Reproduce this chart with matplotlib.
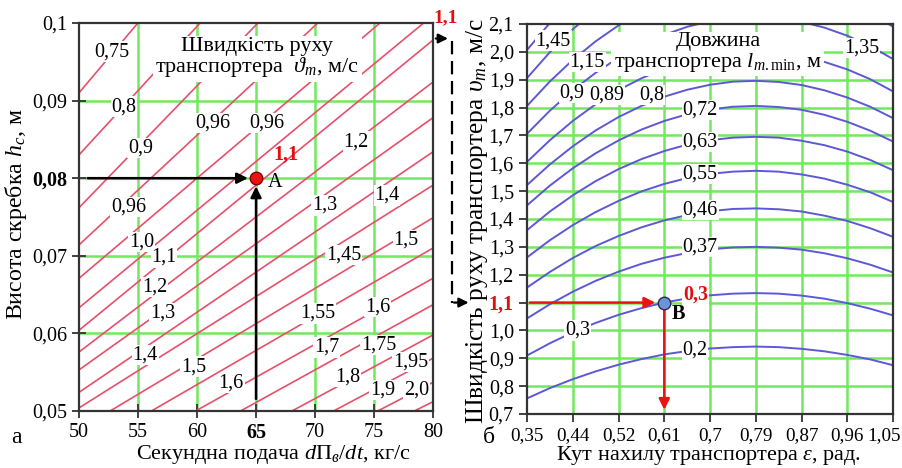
import matplotlib
matplotlib.use('Agg')
import matplotlib.pyplot as plt
from matplotlib.transforms import blended_transform_factory, ScaledTranslation

plt.rcParams['font.family'] = ['Liberation Serif', 'DejaVu Serif']
plt.rcParams['mathtext.fontset'] = 'custom'
plt.rcParams['mathtext.rm'] = 'Liberation Serif'
plt.rcParams['mathtext.it'] = 'Liberation Serif:italic'
plt.rcParams['mathtext.bf'] = 'Liberation Serif:bold'

# ---------------- left panel data (a) ----------------
feed_ticks = [50, 55, 60, 65, 70, 75, 80]
feed_labels = ['50', '55', '60', '65', '70', '75', '80']
height_ticks = [0.05, 0.06, 0.07, 0.08, 0.09, 0.10]
height_labels = ['0,05', '0,06', '0,07', '0,08', '0,09', '0,1']

# speed iso-lines: scraper height at feed 50 and at feed 80 kg/s
line_h_at_50 = [0.0910, 0.0830, 0.0762, 0.0714, 0.0671, 0.0633, 0.0604, 0.0576,
                0.0553, 0.0524, 0.0504, 0.0476, 0.0446, 0.0416, 0.0385, 0.0352,
                0.0326, 0.0300, 0.0284]
line_h_at_80 = [0.1451, 0.1327, 0.1233, 0.1138, 0.1058, 0.1010, 0.0978, 0.0924,
                0.0878, 0.0834, 0.0791, 0.0749, 0.0710, 0.0671, 0.0637, 0.0598,
                0.0568, 0.0537, 0.0512]

left_lbl_text = ['0,75', '0,8', '0,96', '0,96', '0,9', '1,2', '0,96', '1,3', '1,4',
                 '1,0', '1,5', '1,1', '1,45', '1,2', '1,3', '1,55', '1,6', '1,4',
                 '1,7', '1,75', '1,5', '1,95', '1,8', '1,6', '1,9', '2,0']
left_lbl_q = [52.8, 53.8, 61.3, 65.9, 55.2, 73.5, 54.2, 70.8, 76.1,
              55.3, 77.7, 57.2, 72.4, 56.4, 57.1, 70.2, 75.3, 55.6,
              71.0, 75.4, 59.7, 78.1, 72.8, 62.9, 75.7, 78.6]
left_lbl_h = [0.0963, 0.0892, 0.0871, 0.0871, 0.0839, 0.0847, 0.0763, 0.0765, 0.0778,
              0.0718, 0.0720, 0.0698, 0.0701, 0.0660, 0.0626, 0.0626, 0.0634, 0.0572,
              0.0582, 0.0585, 0.0557, 0.0563, 0.0544, 0.0536, 0.0527, 0.0527]

point_a = (65, 0.08)

# ---------------- right panel data (б) ----------------
eps_ticks = [0.35, 0.4375, 0.525, 0.6125, 0.70, 0.7875, 0.875, 0.9625, 1.05]
eps_labels = ['0,35', '0,44', '0,52', '0,61', '0,7', '0,79', '0,87', '0,96', '1,05']
v_ticks = [0.7, 0.8, 0.9, 1.0, 1.1, 1.2, 1.3, 1.4, 1.5, 1.6, 1.7, 1.8, 1.9, 2.0, 2.1]
v_labels = ['0,7', '0,8', '0,9', '1,0', '1,1', '1,2', '1,3', '1,4', '1,5', '1,6',
            '1,7', '1,8', '1,9', '2,0', '2,1']

eps_pts = [0.35, 0.39375, 0.4375, 0.48125, 0.525, 0.56875, 0.6125, 0.65625, 0.70,
           0.74375, 0.7875, 0.83125, 0.875, 0.91875, 0.9625, 1.00625, 1.05]
len_curves = [
    [0.756, 0.793, 0.825, 0.853, 0.877, 0.897, 0.914, 0.926, 0.935, 0.940, 0.942, 0.940, 0.934, 0.925, 0.912, 0.896, 0.875],
    [0.910, 0.954, 0.993, 1.027, 1.056, 1.080, 1.100, 1.115, 1.126, 1.132, 1.134, 1.132, 1.125, 1.114, 1.098, 1.078, 1.054],
    [1.043, 1.094, 1.139, 1.178, 1.211, 1.239, 1.261, 1.278, 1.291, 1.298, 1.300, 1.297, 1.290, 1.277, 1.259, 1.236, 1.208],
    [1.154, 1.210, 1.260, 1.303, 1.339, 1.370, 1.395, 1.414, 1.428, 1.436, 1.438, 1.435, 1.427, 1.412, 1.393, 1.367, 1.336],
    [1.262, 1.324, 1.378, 1.425, 1.465, 1.499, 1.526, 1.547, 1.562, 1.570, 1.573, 1.570, 1.560, 1.545, 1.523, 1.496, 1.461],
    [1.360, 1.427, 1.485, 1.536, 1.579, 1.615, 1.644, 1.667, 1.683, 1.692, 1.695, 1.692, 1.681, 1.665, 1.642, 1.612, 1.575],
    [1.449, 1.520, 1.582, 1.636, 1.682, 1.721, 1.752, 1.776, 1.793, 1.803, 1.806, 1.802, 1.792, 1.774, 1.749, 1.717, 1.678],
    [1.522, 1.596, 1.661, 1.718, 1.766, 1.806, 1.839, 1.864, 1.882, 1.893, 1.896, 1.892, 1.881, 1.862, 1.836, 1.803, 1.762],
    [1.605, 1.683, 1.752, 1.812, 1.863, 1.905, 1.940, 1.967, 1.985, 1.997, 2.000, 1.996, 1.984, 1.964, 1.937, 1.902, 1.858],
    [1.706, 1.789, 1.862, 1.925, 1.979, 2.024, 2.061, 2.090, 2.110, 2.121, 2.125, 2.121, 2.108, 2.087, 2.058, 2.021, 1.974],
    [1.806, 1.894, 1.971, 2.038, 2.095, 2.144, 2.183, 2.212, 2.234, 2.246, 2.250, 2.246, 2.232, 2.210, 2.179, 2.140, 2.090],
    [1.906, 1.999, 2.081, 2.152, 2.212, 2.263, 2.304, 2.335, 2.358, 2.371, 2.375, 2.370, 2.356, 2.332, 2.300, 2.258, 2.207],
    [2.007, 2.104, 2.190, 2.265, 2.328, 2.382, 2.425, 2.458, 2.482, 2.496, 2.500, 2.495, 2.480, 2.455, 2.421, 2.377, 2.323],
]

right_lbl_text = ['1,45', '1,15', '0,9', '0,89', '0,8', '0,72', '0,63', '0,55', '0,46',
                  '0,37', '0,3', '0,2', '1,35']
right_lbl_eps = [0.400, 0.465, 0.436, 0.503, 0.589, 0.681, 0.681, 0.681, 0.681,
                 0.681, 0.447, 0.671, 0.990]
right_lbl_v = [2.040, 1.963, 1.852, 1.845, 1.845, 1.791, 1.676, 1.561, 1.432,
               1.300, 1.000, 0.930, 2.014]

point_b = (0.6125, 1.1)

GREEN = '#72e85e'
RED_LINE = '#e8506a'
BLUE_LINE = '#5c58d6'
FS = 14.5
FS_TITLE = 16
FS_XLAB = 16.0
FS_YLAB = 17.2

fig = plt.figure(figsize=(9.02, 4.68), dpi=100)
ax1 = fig.add_axes([0.0876, 0.1218, 0.3925, 0.8291])
ax2 = fig.add_axes([0.5843, 0.1154, 0.4058, 0.8333])

# ---------------- left panel ----------------
ax1.set_xlim(50, 80)
ax1.set_ylim(0.05, 0.10)
for q in feed_ticks[1:-1]:
    ax1.axvline(q, color=GREEN, lw=1.8, zorder=1)
for h in height_ticks[1:-1]:
    ax1.axhline(h, color=GREEN, lw=1.8, zorder=1)
for h0, h1 in zip(line_h_at_50, line_h_at_80):
    ax1.plot([feed_ticks[0], feed_ticks[-1]], [h0, h1], color=RED_LINE, lw=1.2, zorder=2)
for t, q, h in zip(left_lbl_text, left_lbl_q, left_lbl_h):
    ax1.text(q, h, t, ha='center', va='center', fontsize=14.5, zorder=4,
             bbox=dict(fc='white', ec='none', pad=0.6))
ax1.text(65.1, 0.0955, 'Швидкість руху\nтранспортера  $\\vartheta_m$, м/с', ha='center',
         va='center', fontsize=FS_TITLE, linespacing=0.95, zorder=4,
         bbox=dict(fc='white', ec='none', pad=2))
ax1.annotate('', xy=(point_a[0] - 0.45, point_a[1]), xytext=(50.5, point_a[1]),
             arrowprops=dict(arrowstyle='-|>', color='black', lw=1.8, mutation_scale=16), zorder=5)
ax1.annotate('', xy=(point_a[0], point_a[1] - 0.0007), xytext=(point_a[0], 0.0512),
             arrowprops=dict(arrowstyle='-|>', color='black', lw=1.8, mutation_scale=16), zorder=5)
ax1.plot(*point_a, 'o', ms=9, mfc='#ee1111', mec='#7a0000', mew=1, zorder=6)
ax1.text(66.6, 0.0794, 'A', fontsize=FS, ha='center', va='center', zorder=6)
ax1.text(67.5, 0.0830, '1,1', fontsize=FS, ha='center', va='center', color='#e01010',
         fontweight='bold', zorder=6)

ax1.set_xticks(feed_ticks, feed_labels)
ax1.set_yticks(height_ticks, height_labels)
ax1.tick_params(direction='inout', length=10, width=1.3, labelsize=FS, color='#333333')
for lbl in ax1.get_xticklabels():
    if lbl.get_text() == '65':
        lbl.set_fontweight('bold')
for lbl in ax1.get_yticklabels():
    if lbl.get_text() == '0,08':
        lbl.set_fontweight('bold')
for s in ax1.spines.values():
    s.set_linewidth(1.6)
    s.set_color('#333333')
ax1.set_xlabel('Секундна подача $d\\Pi_в/dt$, кг/с', fontsize=FS_XLAB)
ax1.xaxis.set_label_coords(0.548, -0.082)
ax1.set_ylabel('Висота скребка $h_c$, м', fontsize=FS_YLAB)
ax1.yaxis.set_label_coords(-0.141, 0.508)

# ---------------- right panel ----------------
ax2.set_xlim(eps_ticks[0], eps_ticks[-1])
ax2.set_ylim(v_ticks[0], v_ticks[-1])
for e in eps_ticks[1:-1]:
    ax2.axvline(e, color=GREEN, lw=1.8, zorder=1)
for v in v_ticks[1:-1]:
    ax2.axhline(v, color=GREEN, lw=1.8, zorder=1)
for row in len_curves:
    ax2.plot(eps_pts, row, color=BLUE_LINE, lw=1.4, zorder=2)
for t, e, v in zip(right_lbl_text, right_lbl_eps, right_lbl_v):
    ax2.text(e, v, t, ha='center', va='center', fontsize=14.5, zorder=4,
             bbox=dict(fc='white', ec='none', pad=0.6))
ax2.text(0.715, 1.996, 'Довжина\nтранспортера $l_{m.\\mathrm{min}}$, м', ha='center',
         va='center', fontsize=FS_TITLE, linespacing=0.95, zorder=4,
         bbox=dict(fc='white', ec='none', pad=2))
ax2.text(0.672, 1.127, '0,3', ha='center', va='center', fontsize=14.5, color='#e01010',
         fontweight='bold', zorder=4, bbox=dict(fc='white', ec='none', pad=0.6))
ax2.annotate('', xy=(point_b[0] - 0.012, point_b[1]), xytext=(eps_ticks[0], point_b[1]),
             arrowprops=dict(arrowstyle='-|>', color='#ee1111', lw=1.8, mutation_scale=16), zorder=5)
ax2.annotate('', xy=(point_b[0], v_ticks[0] + 0.005), xytext=(point_b[0], point_b[1]),
             arrowprops=dict(arrowstyle='-|>', color='#ee1111', lw=1.8, mutation_scale=16), zorder=5)
ax2.plot(*point_b, 'o', ms=9, mfc='#6b93d6', mec='#2a2a55', mew=1, zorder=6)
ax2.text(0.64, 1.06, 'B', fontsize=FS, ha='center', va='center', fontweight='bold', zorder=6)

ax2.set_xticks(eps_ticks, eps_labels)
ax2.set_yticks(v_ticks, v_labels)
ax2.tick_params(direction='out', length=6, width=1.3, labelsize=FS, color='#333333')
ax2.tick_params(axis='x', labelsize=13.8)
last_lbl = ax2.get_xticklabels()[-1]
last_lbl.set_transform(last_lbl.get_transform() +
                       ScaledTranslation(-9 / 100, 0, fig.dpi_scale_trans))
for lbl in ax2.get_yticklabels():
    if lbl.get_text() == '1,1':
        lbl.set_fontweight('bold')
        lbl.set_color('#e01010')
for s in ax2.spines.values():
    s.set_linewidth(1.6)
    s.set_color('#333333')
ax2.set_xlabel('Кут нахилу транспортера $\\varepsilon$, рад.', fontsize=FS_XLAB)
ax2.xaxis.set_label_coords(0.497, -0.076)
ax2.set_ylabel('Швидкість руху транспортера $\\upsilon_m$, м/с', fontsize=18.3)
ax2.yaxis.set_label_coords(-0.100, 0.495)

# ---------------- connecting arrows ----------------
tr1 = blended_transform_factory(ax1.transAxes, ax1.transData)
tr2 = blended_transform_factory(ax2.transAxes, ax2.transData)
ax1.annotate('', xy=(1.05, 0.098), xycoords=tr1, xytext=(1.0, 0.098), textcoords=tr1,
             arrowprops=dict(arrowstyle='-|>', color='black', lw=1.6, mutation_scale=14),
             annotation_clip=False)
ax2.plot([-0.205, -0.205], [2.04, 1.1], transform=tr2, color='black', lw=1.6,
         ls=(0, (6, 3)), clip_on=False)
ax2.annotate('', xy=(-0.152, 1.1), xycoords=tr2, xytext=(-0.207, 1.1), textcoords=tr2,
             arrowprops=dict(arrowstyle='-|>', color='black', lw=1.6, mutation_scale=14),
             annotation_clip=False)
fig.text(0.494, 0.963, '1,1', color='#e01010', fontweight='bold', fontsize=14,
         ha='center', va='center')

fig.text(0.018, 0.066, 'а', fontsize=17, ha='center', va='center')
fig.text(0.542, 0.066, 'б', fontsize=17, ha='center', va='center')

fig.savefig('out.png', dpi=100)
